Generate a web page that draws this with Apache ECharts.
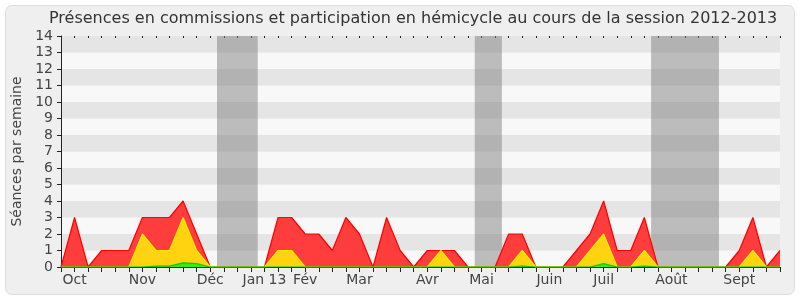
<!DOCTYPE html>
<html>
<head>
<meta charset="utf-8">
<script src="https://cdn.jsdelivr.net/npm/echarts@6/dist/echarts.min.js"></script>
<style>
html,body{margin:0;padding:0;background:#ffffff;}
#chart{width:800px;height:300px;}
</style>
</head>
<body>
<div id="chart"></div>
<script>
// Weekly values, index 0 = first week (late Sept 2012) ... 53 = last week (Sept 2013)
const totalValues = [0,3,0,1,1,1,3,3,3,4,2,0,0,0,0,0,3,3,2,2,1,3,2,0,3,1,0,1,1,1,0,0,0,2,2,0,0,0,1,2,4,1,1,3,0,0,0,0,0,0,1,3,0,1];
const yellowValues = [0,0,0,0,0,0,2,1,1,3,1,0,0,0,0,0,1,1,0,0,0,0,0,0,0,0,0,0,1,0,0,0,0,0,1,0,0,0,0,1,2,0,0,1,0,0,0,0,0,0,0,1,0,0];
const greenValues = [0,0,0,0,0,0,0,0.05,0.05,0.25,0.2,0,0,0,0,0,0,0,0,0,0,0,0,0,0,0,0,0,0,0,0,0,0,0,0.05,0,0,0,0,0,0.2,0,0,0.05,0,0,0,0,0,0,0,0,0,0];
const monthTickIndex = [1,6,11,15,18,22,27,31,36,40,45,50];
const monthTickLabels = ['Oct','Nov','Déc','Jan 13','Fév','Mar','Avr','Mai','Juin','Juil','Août','Sept'];
const holidayBands = [[11.5,14.5],[30.5,32.5],[43.5,48.5]];
const yTickMax = 14;
const titleText = 'Présences en commissions et participation en hémicycle au cours de la session 2012-2013';
const yAxisTitle = 'Séances par semaine';

const toPairs = arr => arr.map((v,i)=>[i,v]);
const labelMap = {};
monthTickIndex.forEach((idx,k)=>{ labelMap[idx] = monthTickLabels[k]; });
const lastIdx = totalValues.length - 1;
const FONT = 'DejaVu Sans';

const chart = echarts.init(document.getElementById('chart'), null, {renderer:'canvas'});
chart.setOption({
  animation:false,
  backgroundColor:'transparent',
  graphic:[{
    type:'rect', z:-10, silent:true,
    shape:{x:5.5,y:5.5,width:789,height:289,r:6},
    style:{fill:'#efefef',stroke:'#dddddd',lineWidth:1}
  }],
  title:{
    text:titleText, left:44, top:6,
    textStyle:{fontFamily:FONT,fontSize:16,fontWeight:'normal',color:'#333333'}
  },
  grid:{left:61,right:20,top:36,bottom:33,containLabel:false},
  xAxis:[{
    type:'value', min:0, max:lastIdx, interval:1,
    axisLine:{show:true,lineStyle:{color:'#222222',width:1}},
    axisTick:{show:true,length:5,lineStyle:{color:'#222222'}},
    splitLine:{show:false},
    axisLabel:{
      show:true, interval:0, margin:6, hideOverlap:false, showMinLabel:true, showMaxLabel:true,
      fontFamily:FONT, fontSize:14, color:'#444444',
      formatter:function(v){ return labelMap[Math.round(v)] || ''; }
    }
  },{
    type:'value', position:'top', min:0, max:lastIdx, interval:1,
    axisLine:{show:false},
    axisTick:{show:true,inside:true,length:2,lineStyle:{color:'#222222'}},
    axisLabel:{show:false}, splitLine:{show:false}
  }],
  yAxis:{
    type:'value', min:0, max:yTickMax, interval:1,
    name:yAxisTitle, nameLocation:'middle', nameGap:37, nameRotate:90,
    nameTextStyle:{fontFamily:FONT,fontSize:14,color:'#444444'},
    axisLine:{show:true,lineStyle:{color:'#222222',width:1}},
    axisTick:{show:true,length:4,lineStyle:{color:'#222222'}},
    axisLabel:{fontFamily:FONT,fontSize:14,color:'#444444',margin:8},
    splitLine:{show:false},
    splitArea:{show:true,areaStyle:{color:['#f8f8f8','#e5e5e5']}}
  },
  series:[{
    type:'line', name:'total', data:toPairs(totalValues), symbol:'none', z:3,
    lineStyle:{color:'#ff0000',width:1.2},
    areaStyle:{color:'#ff3d3d',opacity:1},
    markArea:{
      silent:true,
      itemStyle:{color:'rgba(128,128,128,0.5)'},
      data:holidayBands.map(b=>[{xAxis:b[0]},{xAxis:b[1]}])
    }
  },{
    type:'line', name:'hémicycle', data:toPairs(yellowValues), symbol:'none', z:4,
    lineStyle:{color:'#ffee00',width:1.2},
    areaStyle:{color:'#ffd30f',opacity:1}
  },{
    type:'line', name:'commissions', data:toPairs(greenValues), symbol:'none', z:5,
    lineStyle:{color:'#00cc00',width:1.2},
    areaStyle:{color:'#33ee11',opacity:1}
  }]
});
</script>
</body>
</html>
